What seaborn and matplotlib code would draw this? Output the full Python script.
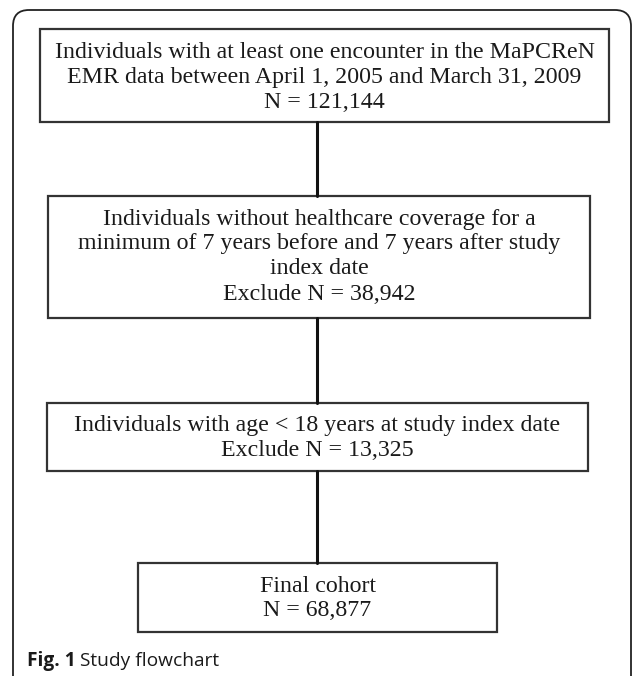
import matplotlib
matplotlib.use("Agg")
import matplotlib.pyplot as plt
from matplotlib.patches import Rectangle, FancyBboxPatch
import seaborn as sns

# Flowchart content
box_lines = [
    ["Individuals with at least one encounter in the MaPCReN",
     "EMR data between April 1, 2005 and March 31, 2009",
     "N = 121,144"],
    ["Individuals without healthcare coverage for a",
     "minimum of 7 years before and 7 years after study",
     "index date",
     "Exclude N = 38,942"],
    ["Individuals with age < 18 years at study index date",
     "Exclude N = 13,325"],
    ["Final cohort",
     "N = 68,877"],
]
caption_bold = "Fig. 1"
caption_text = "Study flowchart"

# Layout in pixels (x0, y0, x1, y1)
box_geom = [(40, 29, 609, 122),
            (48, 196, 590, 318),
            (47, 403, 588, 471),
            (138, 563, 497, 632)]
connector_x = 317

sns.set_theme(style="white")
plt.rcParams['font.family'] = ['Liberation Serif', 'DejaVu Serif']

fig = plt.figure(figsize=(6.32, 6.76), dpi=100)
ax = fig.add_axes([0, 0, 1, 1])
ax.set_xlim(0, 632)
ax.set_ylim(676, 0)
ax.axis('off')

# outer rounded frame (runs off the right and bottom)
frame = FancyBboxPatch((13, 10), 618, 720,
                       boxstyle="round,pad=0,rounding_size=16",
                       fill=False, ec='#222222', lw=1.3)
ax.add_patch(frame)

# boxes and their text
for (x0, y0, x1, y1), lines in zip(box_geom, box_lines):
    ax.add_patch(Rectangle((x0, y0), x1 - x0, y1 - y0, fill=False,
                           ec='#333333', lw=1.6))
    cx = (x0 + x1) / 2
    for i, line in enumerate(lines):
        ax.text(cx, y0 + 23 + 25 * i, line, ha='center', va='center',
                fontsize=17.2, color='#1a1a1a')

# connectors between boxes
for (_, _, _, bottom), (_, top, _, _) in zip(box_geom[:-1], box_geom[1:]):
    ax.plot([connector_x, connector_x], [bottom, top], color='#111111', lw=2.2)

# caption
t1 = ax.text(27, 661, caption_bold, ha='left', va='center', fontsize=13.8,
             fontweight='bold', family=['Open Sans', 'DejaVu Sans'], color='#1a1a1a')
ax.annotate(caption_text, xy=(1, 0.5), xycoords=t1, xytext=(3.5, 0),
            textcoords='offset points', va='center', ha='left', fontsize=13.8,
            family=['Open Sans', 'DejaVu Sans'], color='#1a1a1a')

fig.savefig("out.png", dpi=100, facecolor='white')
